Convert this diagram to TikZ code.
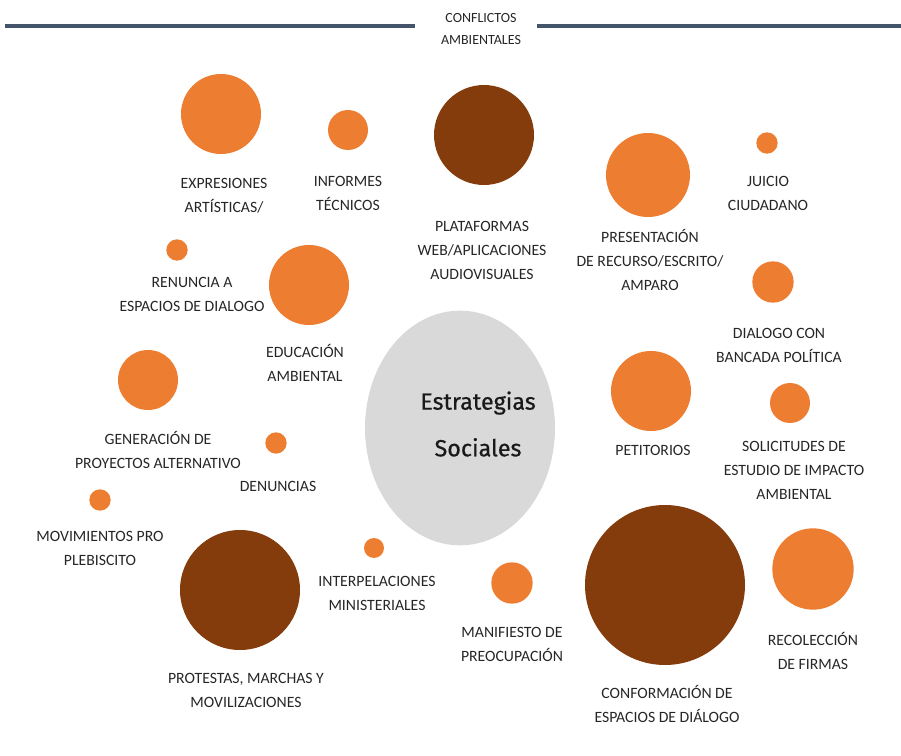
\documentclass[tikz,border=0pt]{standalone}
\usepackage{fontspec}
\setmainfont{Carlito}
\newfontfamily\titlefont[FakeBold=0.6]{Fira Sans}
\usetikzlibrary{positioning,shapes.geometric}
\definecolor{naranja}{HTML}{ED7D31}
\definecolor{cafe}{HTML}{843C0C}
\definecolor{gris}{HTML}{D9D9D9}
\definecolor{pizarra}{HTML}{44546A}
\tikzset{
  bola/.style={circle,fill=naranja,inner sep=0pt},
  bolacafe/.style={circle,fill=cafe,inner sep=0pt},
  rotulo/.style={align=center,font=\fontsize{11.8}{18}\selectfont,text=black!85}
}

\begin{document}
\begin{tikzpicture}[x=0.75pt,y=-0.75pt]
\useasboundingbox (0,0) rectangle (901,756);
%header
\node[rotulo,font=\fontsize{10.5}{17}\selectfont] (titulo) at (481,29) {CONFLICTOS\\AMBIENTALES};
\coordinate (izq) at (5,26); \coordinate (der) at (901,26);
\draw[pizarra,line width=2.4pt] (izq) -- (415,26);
\draw[pizarra,line width=2.4pt] (537,26) -- (der);
%centre
\node[ellipse,fill=gris,minimum width=142.5pt,minimum height=176pt,inner sep=0pt] (centro) at (460,428) {};
\node[align=center,font=\titlefont\fontsize{17.5}{35}\selectfont,text=black!90] (estrategias) at (478,424) {Estrategias\\Sociales};
%upper row
\node[bola,minimum size=60pt] (expresiones) at (221,114) {};
\node[rotulo] (expresionesT) at (224,196) {EXPRESIONES\\ARTÍSTICAS/};
\node[bola,minimum size=30pt] (informes) at (348,130) {};
\node[rotulo] (informesT) at (348,193) {INFORMES\\TÉCNICOS};
\node[bolacafe,minimum size=75pt] (plataformas) at (484,135) {};
\node[rotulo] (plataformasT) at (482,250) {PLATAFORMAS\\WEB/APLICACIONES\\AUDIOVISUALES};
\node[bola,minimum size=63pt] (presentacion) at (648,175) {};
\node[rotulo] (presentacionT) at (650,260) {PRESENTACIÓN\\DE RECURSO/ESCRITO/\\AMPARO};
\node[bola,minimum size=16pt] (juicio) at (767,143) {};
\node[rotulo] (juicioT) at (768,193) {JUICIO\\CIUDADANO};
%left side
\node[bola,minimum size=16pt] (renuncia) at (177,250) {};
\node[rotulo] (renunciaT) at (192,294) {RENUNCIA A\\ESPACIOS DE DIALOGO};
\node[bola,minimum size=60pt] (educacion) at (309,285) {};
\node[rotulo] (educacionT) at (305,363) {EDUCACIÓN\\AMBIENTAL};
\node[bola,minimum size=45pt] (generacion) at (148,380) {};
\node[rotulo] (generacionT) at (158,450) {GENERACIÓN DE\\PROYECTOS ALTERNATIVO};
\node[bola,minimum size=16pt] (denuncias) at (276,443) {};
\node[rotulo] (denunciasT) at (278,486) {DENUNCIAS};
\node[bola,minimum size=16pt] (movimientos) at (100,500) {};
\node[rotulo] (movimientosT) at (100,548) {MOVIMIENTOS PRO\\PLEBISCITO};
%right side
\node[bola,minimum size=31pt] (dialogo) at (773,282) {};
\node[rotulo] (dialogoT) at (779,345) {DIALOGO CON\\BANCADA POLÍTICA};
\node[bola,minimum size=60pt] (petitorios) at (651,391) {};
\node[rotulo] (petitoriosT) at (653,450) {PETITORIOS};
\node[bola,minimum size=30pt] (solicitudes) at (790,403) {};
\node[rotulo] (solicitudesT) at (794,470) {SOLICITUDES DE\\ESTUDIO DE IMPACTO\\AMBIENTAL};
%lower row
\node[bola,minimum size=15pt] (interpelaciones) at (374,548) {};
\node[rotulo] (interpelacionesT) at (377,593) {INTERPELACIONES\\MINISTERIALES};
\node[bolacafe,minimum size=90pt] (protestas) at (240,590) {};
\node[rotulo] (protestasT) at (246,690) {PROTESTAS, MARCHAS Y\\MOVILIZACIONES};
\node[bola,minimum size=31pt] (manifiesto) at (512,583) {};
\node[rotulo] (manifiestoT) at (512,644) {MANIFIESTO DE\\PREOCUPACIÓN};
\node[bolacafe,minimum size=120pt] (conformacion) at (665,585) {};
\node[rotulo] (conformacionT) at (667,704) {CONFORMACIÓN DE\\ESPACIOS DE DIÁLOGO};
\node[bola,minimum size=61pt] (recoleccion) at (813,569) {};
\node[rotulo] (recoleccionT) at (813,651) {RECOLECCIÓN\\DE FIRMAS};
\end{tikzpicture}
\end{document}
